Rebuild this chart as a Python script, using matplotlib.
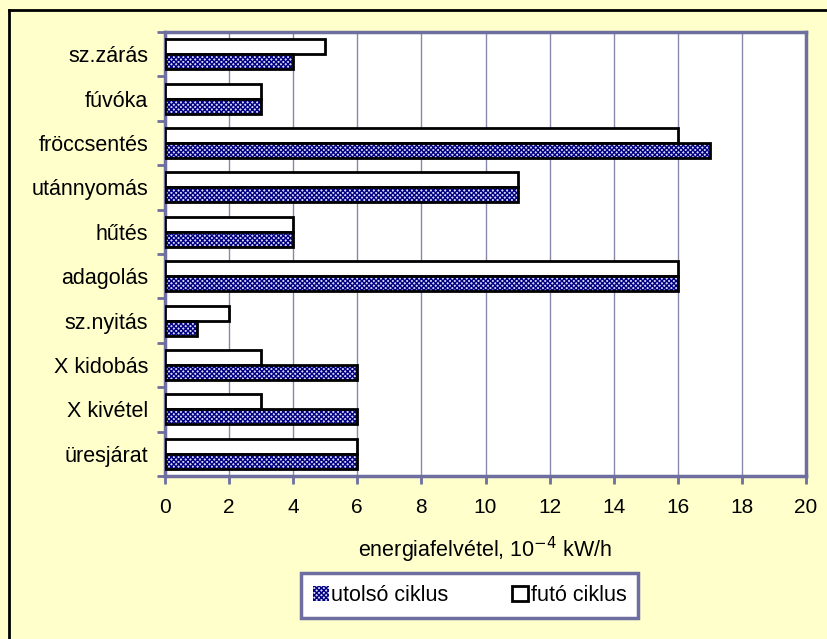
import matplotlib
matplotlib.use("Agg")
import matplotlib.pyplot as plt
from matplotlib.patches import Patch
from matplotlib.lines import Line2D
import numpy as np

categories = ["sz.zárás", "fúvóka", "fröccsentés", "utánnyomás", "hűtés",
              "adagolás", "sz.nyitás", "X kidobás", "X kivétel", "üresjárat"]
futo = [5, 3, 16, 11, 4, 16, 2, 3, 3, 6]
utolso = [4, 3, 17, 11, 4, 16, 1, 6, 6, 6]
xticks = [0, 2, 4, 6, 8, 10, 12, 14, 16, 18, 20]

plt.rcParams['font.family'] = ['Liberation Sans', 'DejaVu Sans']
plt.rcParams['hatch.linewidth'] = 1.0

bg = '#FFFFCC'
frame = '#6E6EA0'
navy = '#000080'
hatch = 'xxxxxxx'
hfill = '#D8D8F8'
fs = 15.5

fig = plt.figure(figsize=(8.27, 6.39), dpi=100, facecolor=bg)
ax = fig.add_axes([165/827, 1-476/639, (806-165)/827, (476-32)/639])
ax.set_facecolor('white')

n = len(categories)
pos = np.arange(n)[::-1].astype(float)  # top category at top
h = 0.34

ax.set_axisbelow(True)
ax.grid(axis='x', color='#8888AA', lw=1)

# futó ciklus (white) upper bar
ax.barh(pos + h/2, futo, h, color='white', edgecolor='black', lw=2, zorder=3)
# utolsó ciklus (hatched) lower bar
ax.barh(pos - h/2, utolso, h, color=hfill, hatch=hatch, edgecolor=navy, lw=0, zorder=3)
ax.barh(pos - h/2, utolso, h, fill=False, edgecolor='black', lw=2, zorder=4)

ax.set_xlim(0, 20)
ax.set_ylim(-0.5, n - 0.5)
ax.set_xticks(xticks)
ax.set_xticklabels([str(t) for t in xticks], fontsize=15)
ax.set_yticks(pos)
ax.set_yticklabels(categories, fontsize=fs)
ax.tick_params(axis='y', length=0, pad=12)
ax.set_yticks(np.arange(n + 1) - 0.5, minor=True)
ax.tick_params(axis='y', which='minor', length=6, width=2, color=frame, direction='out')
ax.tick_params(axis='x', length=6, width=2, color=frame, direction='out', pad=10)

for s in ax.spines.values():
    s.set_color(frame)
    s.set_linewidth(2.5)

ax.set_xlabel("energiafelvétel, 10$^{-4}$ kW/h", fontsize=fs, labelpad=13)

handles = [Patch(facecolor=hfill, hatch=hatch, edgecolor=navy, lw=0),
           Patch(facecolor='white', edgecolor='black', lw=2)]
leg = fig.legend(handles, ["utolsó ciklus", "futó ciklus"], ncol=2,
                 loc='center', bbox_to_anchor=(290/827, 1-619/639, 359/827, 47/639),
                 bbox_transform=fig.transFigure, mode='expand',
                 fontsize=fs, handlelength=0.75, handleheight=0.75,
                 handletextpad=0.1, columnspacing=3, fancybox=False,
                 borderpad=0.55)
leg.get_frame().set_edgecolor(frame)
leg.get_frame().set_linewidth(2.5)
leg.get_frame().set_facecolor('white')
leg.get_frame().set_alpha(1)

# outer chart border (left and top visible)
fig.add_artist(Line2D([9/827, 9/827], [0, 1-10/639], transform=fig.transFigure, color='black', lw=2))
fig.add_artist(Line2D([9/827, 1], [1-10/639, 1-10/639], transform=fig.transFigure, color='black', lw=2))

fig.savefig("out.png", dpi=100, facecolor=bg)
